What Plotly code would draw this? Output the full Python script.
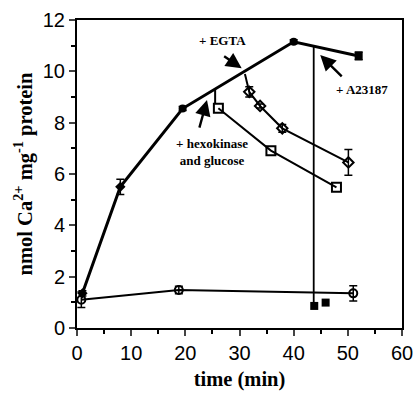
import plotly.graph_objects as go

# Main series (control uptake)
main_x = [1, 8, 19.5, 40, 52]
main_y = [1.35, 5.5, 8.55, 11.15, 10.6]
main_err = [0.1, 0.3, 0.08, 0.08, 0.15]

# + EGTA branch
egta_link_x = [31, 31.8]
egta_link_y = [9.9, 9.2]
egta_x = [31.8, 33.8, 37.9, 50.1]
egta_y = [9.2, 8.65, 7.78, 6.45]
egta_err = [0.2, 0.08, 0.15, 0.5]

# + hexokinase and glucose branch
hk_link_x = [25.5, 25.5]
hk_link_y = [9.3, 8.75]
hk_x = [26.1, 35.8, 47.9]
hk_y = [8.56, 6.91, 5.48]

# + A23187
a23_link_x = [43.7, 43.7]
a23_link_y = [11.0, 0.86]
a23_x = [43.8, 45.9]
a23_y = [0.86, 0.99]

# low series (open circles)
low_x = [0.8, 18.8, 51]
low_y = [1.1, 1.48, 1.35]
low_err = [0.3, 0.15, 0.3]

x_ticks = [0, 10, 20, 30, 40, 50, 60]
y_ticks = [0, 2, 4, 6, 8, 10, 12]

BLACK = "black"
fig = go.Figure()

fig.add_trace(go.Scatter(x=low_x, y=low_y, mode="lines+markers",
    line=dict(color=BLACK, width=2),
    marker=dict(symbol="circle-open", size=8, color=BLACK, line=dict(width=2)),
    error_y=dict(type="data", array=low_err, color=BLACK, thickness=1.5, width=4)))

fig.add_trace(go.Scatter(x=a23_link_x, y=a23_link_y, mode="lines",
    line=dict(color=BLACK, width=1.8)))
fig.add_trace(go.Scatter(x=a23_x, y=a23_y, mode="markers",
    marker=dict(symbol="square", size=8, color=BLACK)))

fig.add_trace(go.Scatter(x=hk_link_x, y=hk_link_y, mode="lines",
    line=dict(color=BLACK, width=2)))
fig.add_trace(go.Scatter(x=hk_x, y=hk_y, mode="lines+markers",
    line=dict(color=BLACK, width=2),
    marker=dict(symbol="square-open", size=9, color=BLACK, line=dict(width=2))))

fig.add_trace(go.Scatter(x=egta_link_x, y=egta_link_y, mode="lines",
    line=dict(color=BLACK, width=2)))
fig.add_trace(go.Scatter(x=egta_x, y=egta_y, mode="lines+markers",
    line=dict(color=BLACK, width=2),
    marker=dict(symbol="diamond-open", size=8, color=BLACK, line=dict(width=2)),
    error_y=dict(type="data", array=egta_err, color=BLACK, thickness=1.5, width=4)))

fig.add_trace(go.Scatter(x=main_x, y=main_y, mode="lines+markers",
    line=dict(color=BLACK, width=3),
    marker=dict(symbol=["diamond", "diamond", "circle", "circle", "square"], size=8, color=BLACK),
    error_y=dict(type="data", array=main_err, color=BLACK, thickness=1.5, width=4)))

ann_font = dict(family="Liberation Serif", size=13, color=BLACK)
arrow_kw = dict(showarrow=True, arrowhead=2, arrowwidth=2.4, arrowsize=1.3, arrowcolor=BLACK,
                text="", standoff=0, startstandoff=0)
fig.add_annotation(x=30.4, y=10.12, ax=-19, ay=-13, **arrow_kw)
fig.add_annotation(x=26.8, y=11.2, text="<b>+ EGTA</b>", showarrow=False, font=ann_font)
fig.add_annotation(x=44.9, y=10.64, ax=23, ay=23, **arrow_kw)
fig.add_annotation(x=52.6, y=9.28, text="<b>+ A23187</b>", showarrow=False, font=ann_font)
fig.add_annotation(x=24.0, y=8.88, ax=-8, ay=29, **arrow_kw)
fig.add_annotation(x=25.0, y=6.86, text="<b>+ hexokinase<br>and glucose</b>", showarrow=False,
                   font=ann_font, align="center")

tick_font = dict(family="Liberation Sans", size=20, color=BLACK)
title_font = dict(family="Liberation Serif", size=20.5, color=BLACK)

fig.update_xaxes(range=[0, 60], tickvals=x_ticks, ticks="outside", ticklen=6, tickwidth=2,
                 showline=True, linewidth=2, linecolor=BLACK, mirror=True, showgrid=False,
                 zeroline=False, tickfont=tick_font, automargin=False,
                 minor=dict(dtick=5, ticks="outside", ticklen=4, tickwidth=2, tickcolor=BLACK),
                 title=dict(text="<b>time (min)</b>", font=title_font, standoff=9))
fig.update_yaxes(range=[0, 12], tickvals=y_ticks, ticks="outside", ticklen=6, tickwidth=2,
                 showline=True, linewidth=2, linecolor=BLACK, mirror=True, showgrid=False,
                 zeroline=False, tickfont=tick_font, automargin=False,
                 minor=dict(dtick=1, ticks="outside", ticklen=4, tickwidth=2, tickcolor=BLACK),
                 title=dict(text="<b>nmol Ca<sup>2+</sup> mg<sup>-1</sup> protein</b>",
                            font=title_font, standoff=5))

fig.update_layout(width=414, height=394, showlegend=False,
                  margin=dict(l=77, r=12, t=20, b=66),
                  plot_bgcolor="white", paper_bgcolor="white")

fig.write_html("out.html")
